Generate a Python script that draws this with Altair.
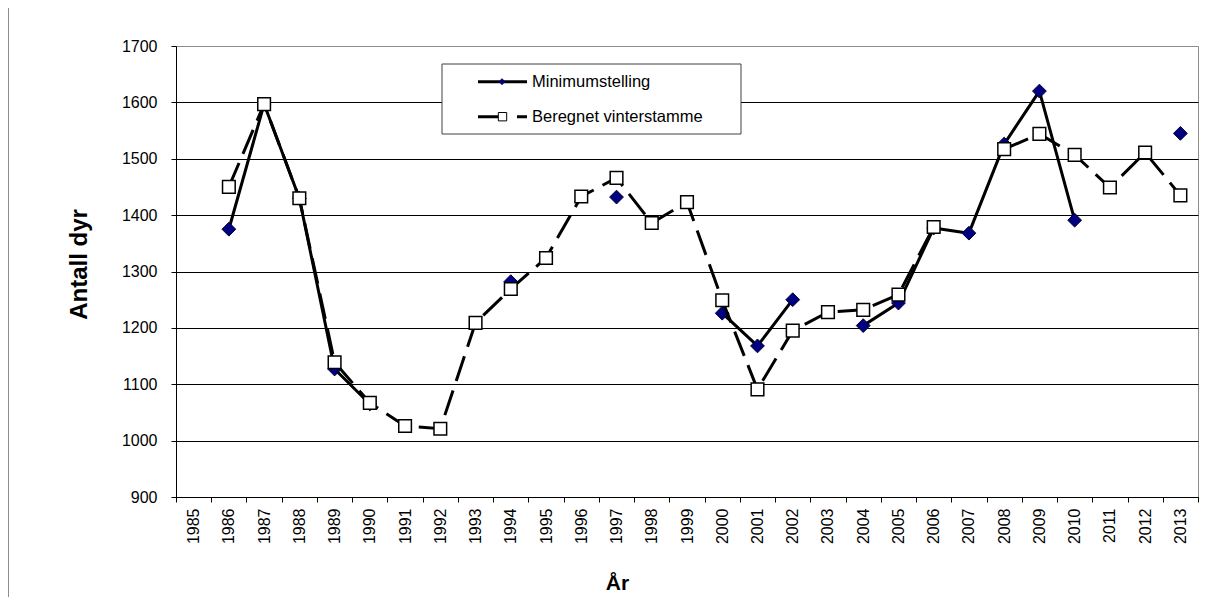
import altair as alt
import pandas as pd

# ---- data ----
years = [str(y) for y in range(1985, 2014)]
minimumstelling = [None, 1375, 1597, 1430, 1127, 1065, None, None, None, 1282,
                   None, None, 1432, None, None, 1226, 1168, 1250, None, 1204,
                   1244, 1377, 1368, 1526, 1620, 1391, None, None, 1545]
beregnet = [None, 1450, 1597, 1430, 1139, 1067, 1026, 1021, 1209, 1269,
            1324, 1433, 1466, 1386, 1423, 1249, 1091, 1195, 1228, 1232,
            1259, 1379, None, 1517, 1544, 1507, 1449, 1511, 1435]
y_ticks = list(range(900, 1800, 100))
series_names = ["Minimumstelling", "Beregnet vinterstamme"]
x_title = "År"
y_title = "Antall dyr"

FONT = "Liberation Sans"


def segments(vals):
    rows, seg, prev = [], 0, False
    for yr, v in zip(years, vals):
        if v is None:
            if prev:
                seg += 1
            prev = False
            continue
        rows.append({"year": yr, "value": v, "seg": seg})
        prev = True
    return pd.DataFrame(rows)


df_min = segments(minimumstelling)
df_ber = segments(beregnet)

x_enc = alt.X(
    "year:O",
    scale=alt.Scale(type="band", domain=years, paddingInner=0, paddingOuter=0),
    axis=alt.Axis(
        title=x_title, labelAngle=270, labelAlign="right", labelBaseline="middle",
        tickBand="extent", grid=False, domainColor="black", tickColor="black",
        tickSize=5, labelPadding=6, labelFontSize=16, labelFont=FONT,
        labelColor="black", titleFont=FONT, titleFontSize=21, titleFontWeight="bold",
        titleColor="black", titleX=441, titleY=92, titleAlign="center",
        titleBaseline="alphabetic",
    ),
)
y_enc = alt.Y(
    "value:Q",
    scale=alt.Scale(domain=[900, 1700], nice=False, zero=False),
    axis=alt.Axis(
        values=y_ticks, format="d", title=y_title, grid=True,
        gridColor=alt.condition("datum.value == 1700", alt.value("#8c8c8c"), alt.value("black")),
        gridWidth=1, domainColor="black", tickColor="black", tickSize=5,
        labelPadding=14, labelFontSize=16, labelFont=FONT, labelColor="black",
        titleFont=FONT, titleFontSize=24, titleFontWeight="bold", titleColor="black",
        titleAngle=270, titleX=-97, titleY=218, titleAlign="center",
        titleBaseline="middle",
    ),
)

min_line = alt.Chart(df_min).mark_line(color="black", strokeWidth=3, strokeJoin="round").encode(
    x=x_enc, y=y_enc, detail="seg:N")
min_pts = alt.Chart(df_min).mark_point(
    shape="diamond", filled=True, fill="#000080", stroke="#000033", strokeWidth=1,
    size=190, opacity=1).encode(x=x_enc, y=y_enc)
ber_line = alt.Chart(df_ber).mark_line(color="black", strokeWidth=3, strokeDash=[26, 10]).encode(
    x=x_enc, y=y_enc, detail="seg:N")
ber_pts = alt.Chart(df_ber).mark_point(
    shape="square", filled=True, fill="white", stroke="black", strokeWidth=1.5,
    size=160, opacity=1).encode(x=x_enc, y=y_enc)

# ---- manual legend ----
leg = alt.Chart(pd.DataFrame({"k": [0]}))
leg_box = leg.mark_rect(fill="white", stroke="#404040", strokeWidth=1).encode(
    x=alt.value(266), x2=alt.value(565), y=alt.value(18), y2=alt.value(88))
leg_l1 = leg.mark_rule(color="black", strokeWidth=3).encode(
    x=alt.value(302), x2=alt.value(351), y=alt.value(35.7))
leg_p1 = leg.mark_point(shape="diamond", filled=True, fill="#000080", stroke="#000033",
                        strokeWidth=0.5, size=40, opacity=1).encode(
    x=alt.value(326), y=alt.value(35.7))
leg_t1 = leg.mark_text(align="left", baseline="middle", font=FONT, fontSize=16.5,
                       color="black").encode(
    x=alt.value(356), y=alt.value(35.7), text=alt.value(series_names[0]))
leg_l2 = leg.mark_rule(color="black", strokeWidth=3, strokeDash=[20, 19, 10, 40]).encode(
    x=alt.value(302), x2=alt.value(351), y=alt.value(70.7))
leg_p2 = leg.mark_point(shape="square", filled=True, fill="white", stroke="black",
                        strokeWidth=1, size=70, opacity=1).encode(
    x=alt.value(326.5), y=alt.value(70.7))
leg_t2 = leg.mark_text(align="left", baseline="middle", font=FONT, fontSize=16.5,
                       color="black").encode(
    x=alt.value(356), y=alt.value(70.7), text=alt.value(series_names[1]))

# outer chart-area frame (left edge)
frame = leg.mark_rule(color="#8c8c8c", strokeWidth=1).encode(
    x=alt.value(-167.5), y=alt.value(-38), y2=alt.value(551))

chart = alt.layer(
    min_line, min_pts, ber_line, ber_pts,
    leg_box, leg_l1, leg_p1, leg_t1, leg_l2, leg_p2, leg_t2, frame,
).properties(
    width=1022, height=451,
    autosize=alt.AutoSizeParams(type="none"),
    padding={"left": 168, "top": 38, "right": 8, "bottom": 100},
    background="white",
).configure_view(stroke="#8c8c8c", strokeWidth=1)

chart.save("out.html", embed_options={"renderer": "svg", "actions": False})
